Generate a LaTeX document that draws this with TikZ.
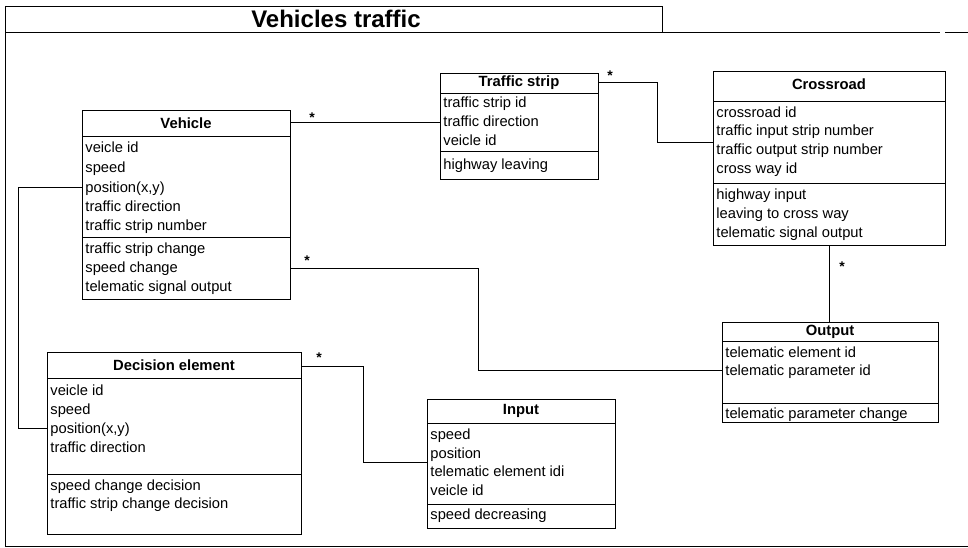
\documentclass[tikz,border=0pt]{standalone}
\usepackage{fontspec}
\setmainfont{Liberation Sans}
\begin{document}
\begin{tikzpicture}[x=1pt,y=-1pt,line width=0.9pt,
  classbox/.style={draw, anchor=north west, inner sep=0pt},
  head/.style={font=\bfseries\fontsize{14.8}{16}\selectfont, inner sep=0pt},
  attr/.style={anchor=base west, inner sep=0pt, font=\fontsize{14.7}{16}\selectfont},
  mult/.style={font=\bfseries\fontsize{14}{16}\selectfont, inner sep=0pt},
  conn/.style={draw, line width=0.9pt}]
\useasboundingbox (0,0) rectangle (968,548);
% frame
\coordinate (fTL) at (5,6);
\coordinate (fTR) at (662,6);
\coordinate (fML) at (5,32);
\coordinate (fMR) at (662,32);
\coordinate (fGap1) at (940,32);
\coordinate (fGap2) at (945,32);
\coordinate (fEnd) at (968,32);
\coordinate (fBL) at (5,546);
\coordinate (fBR) at (968,546);
\draw (fTL) -- (fTR) -- (fMR);
\draw (fML) -- (fGap1);
\draw (fGap2) -- (fEnd);
\draw (fTL) -- (fBL) -- (fBR);
\node[font=\bfseries\fontsize{24}{27}\selectfont, inner sep=0pt] (title) at (336,19) {Vehicles traffic};

% Vehicle
\node[classbox, minimum width=208pt, minimum height=189pt] (veh) at (82,110) {};
\draw (veh.west |- 0,136) -- (veh.east |- 0,136);
\draw (veh.west |- 0,237) -- (veh.east |- 0,237);
\node[head] (vehT) at (186,123) {Vehicle};
\foreach \t/\y [count=\i] in {veicle id/148, speed/168, {position(x,y)}/187, traffic direction/206, traffic strip number/225, traffic strip change/248, speed change/267, telematic signal output/286}
  \node[attr] (veh-\i) at (85,\y+5) {\t};

% Traffic strip
\node[classbox, minimum width=158pt, minimum height=106pt] (ts) at (440,73) {};
\draw (ts.west |- 0,93) -- (ts.east |- 0,93);
\draw (ts.west |- 0,151) -- (ts.east |- 0,151);
\node[head] (tsT) at (519,83) {Traffic strip};
\foreach \t/\y [count=\i] in {traffic strip id/103, traffic direction/122, veicle id/141, highway leaving/165}
  \node[attr] (ts-\i) at (443,\y+5) {\t};

% Crossroad
\node[classbox, minimum width=232pt, minimum height=174pt] (cr) at (713,71) {};
\draw (cr.west |- 0,101) -- (cr.east |- 0,101);
\draw (cr.west |- 0,183) -- (cr.east |- 0,183);
\node[head] (crT) at (829,84) {Crossroad};
\foreach \t/\y [count=\i] in {crossroad id/113, traffic input strip number/131, traffic output strip number/150, cross way id/169, highway input/194, leaving to cross way/213, telematic signal output/232}
  \node[attr] (cr-\i) at (716,\y+5) {\t};

% Output
\node[classbox, minimum width=216pt, minimum height=100pt] (out) at (722,322) {};
\draw (out.west |- 0,341) -- (out.east |- 0,341);
\draw (out.west |- 0,403) -- (out.east |- 0,403);
\node[head] (outT) at (830,332) {Output};
\foreach \t/\y [count=\i] in {telematic element id/352, telematic parameter id/370, telematic parameter change/413}
  \node[attr] (out-\i) at (725,\y+5) {\t};

% Decision element
\node[classbox, minimum width=254pt, minimum height=182pt] (dec) at (47,352) {};
\draw (dec.west |- 0,378) -- (dec.east |- 0,378);
\draw (dec.west |- 0,474) -- (dec.east |- 0,474);
\node[head] (decT) at (174,365) {Decision element};
\foreach \t/\y [count=\i] in {veicle id/390, speed/409, {position(x,y)}/428, traffic direction/447, speed change decision/485, traffic strip change decision/503}
  \node[attr] (dec-\i) at (50,\y+5) {\t};

% Input
\node[classbox, minimum width=188pt, minimum height=129pt] (inp) at (427,399) {};
\draw (inp.west |- 0,423) -- (inp.east |- 0,423);
\draw (inp.west |- 0,504) -- (inp.east |- 0,504);
\node[head] (inpT) at (521,411) {Input};
\foreach \t/\y [count=\i] in {speed/434, position/453, telematic element idi/471, veicle id/490, speed decreasing/514}
  \node[attr] (inp-\i) at (430,\y+5) {\t};

% connectors
\coordinate (b2a) at (657,82);
\coordinate (b2b) at (657,142);
\coordinate (b3a) at (478,268);
\coordinate (b3b) at (478,370);
\coordinate (b5a) at (18,187);
\coordinate (b5b) at (18,428);
\coordinate (b6a) at (363,366);
\coordinate (b6b) at (363,462);

\draw[conn] (veh.east |- 0,122) -- (ts.west |- 0,122);
\draw[conn] (ts.east |- b2a) -- (b2a) -- (b2b) -- (cr.west |- b2b);
\draw[conn] (veh.east |- b3a) -- (b3a) -- (b3b) -- (out.west |- b3b);
\draw[conn] (cr.south -| 829,0) -- (out.north -| 829,0);
\draw[conn] (veh.west |- b5a) -- (b5a) -- (b5b) -- (dec.west |- b5b);
\draw[conn] (dec.east |- b6a) -- (b6a) -- (b6b) -- (inp.west |- b6b);

\node[mult] (m1) at (312,118) {*};
\node[mult] (m2) at (610,76) {*};
\node[mult] (m3) at (307,261) {*};
\node[mult] (m4) at (842,267) {*};
\node[mult] (m5) at (319,358) {*};
\end{tikzpicture}
\end{document}
